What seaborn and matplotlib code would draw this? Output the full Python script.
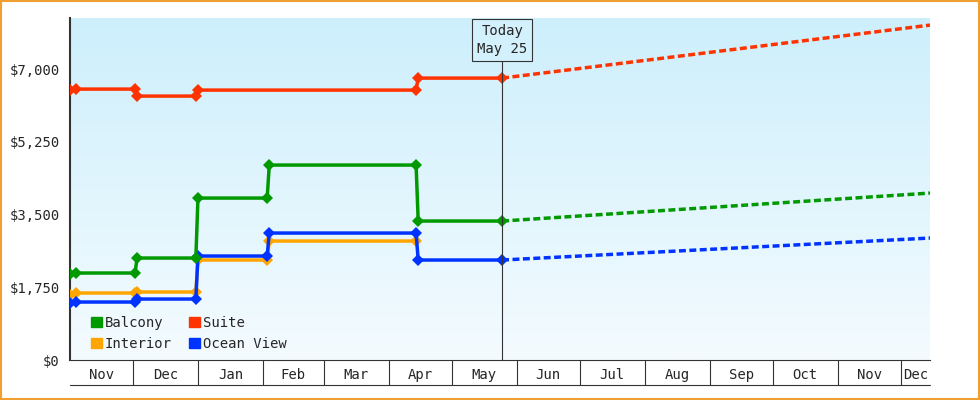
import matplotlib
matplotlib.use("Agg")
import matplotlib.pyplot as plt
from matplotlib.patches import Patch
import numpy as np
import pandas as pd
import seaborn as sns

sns.set_style("white")
plt.rcParams['font.family'] = ['DejaVu Sans Mono']

# price history
balcony_dates = ["2023-11-01", "2023-11-04", "2023-12-02", "2023-12-03", "2023-12-31", "2024-01-01",
                 "2024-02-03", "2024-02-04", "2024-04-14", "2024-04-15", "2024-05-25"]
balcony = [2069, 2093, 2093, 2454, 2454, 3897, 3897, 4691, 4691, 3344, 3344]
suite_dates = ["2023-11-01", "2023-11-04", "2023-12-02", "2023-12-03", "2023-12-31", "2024-01-01",
               "2024-04-14", "2024-04-15", "2024-05-25"]
suite = [6495, 6519, 6519, 6351, 6351, 6495, 6495, 6784, 6784]
interior_dates = ["2023-11-01", "2023-11-04", "2023-12-02", "2023-12-03", "2023-12-31", "2024-01-01",
                  "2024-02-03", "2024-02-04", "2024-04-14"]
interior = [1564, 1612, 1612, 1636, 1636, 2406, 2406, 2863, 2863]
ocean_dates = ["2023-11-01", "2023-11-04", "2023-12-02", "2023-12-03", "2023-12-31", "2024-01-01",
               "2024-02-03", "2024-02-04", "2024-04-14", "2024-04-15", "2024-05-25"]
ocean = [1371, 1395, 1395, 1467, 1467, 2502, 2502, 3055, 3055, 2406, 2406]

# forecast (dotted)
fc_dates = ["2024-05-25", "2024-12-15"]
fc_suite = [6784, 8059]
fc_balcony = [3344, 4017]
fc_ocean = [2406, 2935]

colors = {"Balcony": "#009900", "Suite": "#ff3300", "Interior": "#ffa500", "Ocean View": "#0033ff"}
month_labels = ["Nov", "Dec", "Jan", "Feb", "Mar", "Apr", "May", "Jun", "Jul", "Aug", "Sep", "Oct", "Nov", "Dec"]

hist = pd.concat([
    pd.DataFrame({"date": pd.to_datetime(d), "price": v, "cabin": n})
    for n, d, v in [("Balcony", balcony_dates, balcony), ("Suite", suite_dates, suite),
                    ("Interior", interior_dates, interior), ("Ocean View", ocean_dates, ocean)]
])
fc = pd.concat([
    pd.DataFrame({"date": pd.to_datetime(fc_dates), "price": v, "cabin": n})
    for n, v in [("Suite", fc_suite), ("Balcony", fc_balcony), ("Ocean View", fc_ocean)]
])

fig = plt.figure(figsize=(9.8, 4.0), dpi=100)
fig.patch.set_facecolor("white")
ax = fig.add_axes([70 / 980, 40 / 400, 860 / 980, 342 / 400])
border = plt.Rectangle((0.001, 0.002), 0.998, 0.996, transform=fig.transFigure, fill=False,
                       edgecolor="#f0a030", lw=1.5)
fig.patches.append(border)

# gradient background, light blue at top fading to white
grad = np.linspace(0, 1, 256).reshape(-1, 1)
cmap = matplotlib.colors.LinearSegmentedColormap.from_list("bg", ["#cdeffc", "#f4fbff"])
ax.imshow(grad, aspect="auto", cmap=cmap, extent=[0, 1, 0, 1], transform=ax.transAxes, zorder=0)

for name in ["Interior", "Ocean View", "Balcony", "Suite"]:
    sub = hist[hist.cabin == name]
    sns.lineplot(data=sub, x="date", y="price", color=colors[name], lw=2.5, marker="D",
                 markersize=6, markeredgewidth=0, sort=False, ax=ax, zorder=3)
for name in ["Suite", "Balcony", "Ocean View"]:
    sub = fc[fc.cabin == name]
    sns.lineplot(data=sub, x="date", y="price", color=colors[name], lw=2.5, ls=(0, (2, 1)),
                 sort=False, ax=ax, zorder=3)

xmin, xmax = pd.Timestamp("2023-11-01"), pd.Timestamp("2024-12-15")
ax.set_xlim(xmin, xmax)
ax.set_ylim(0, 8230)
ax.set_xlabel("")
ax.set_ylabel("")
ax.set_yticks(np.arange(0, 7001, 1750))
ax.set_yticklabels([f"${v:,.0f}" for v in np.arange(0, 7001, 1750)], fontsize=10)
ax.tick_params(axis="y", length=4, width=1, color="#333333", direction="out")
for s in ["top", "right"]:
    ax.spines[s].set_visible(False)
ax.spines["left"].set_linewidth(1.5)
ax.spines["left"].set_color("#333333")
ax.spines["bottom"].set_color("#333333")

# month cells under the axis
starts = pd.date_range("2023-11-01", "2024-12-01", freq="MS")
bounds = list(starts) + [xmax]
mids = [a + (b - a) / 2 for a, b in zip(bounds[:-1], bounds[1:])]
ax.set_xticks(mids)
ax.set_xticklabels(month_labels, fontsize=10)
ax.tick_params(axis="x", length=0, pad=6)
trans = matplotlib.transforms.blended_transform_factory(ax.transData, ax.transAxes)
for b in bounds[1:-1]:
    ax.plot([b, b], [0, -0.073], color="#333333", lw=0.8, transform=trans, clip_on=False)
ax.plot([xmin, xmax], [-0.073, -0.073], color="#333333", lw=0.8, transform=trans, clip_on=False)

# today marker
today = pd.Timestamp("2024-05-25")
ax.plot([today, today], [0, 0.88], color="#333333", lw=0.8, transform=trans, zorder=4)
ax.text(today, 0.935, "Today\nMay 25", transform=trans, ha="center", va="center", fontsize=10,
        linespacing=1.4, bbox=dict(boxstyle="square,pad=0.35", fc="#d3f1fc", ec="#333333", lw=0.8), zorder=5)

handles = [Patch(color=colors[n], label=n) for n in ["Balcony", "Interior", "Suite", "Ocean View"]]
ax.legend(handles=handles, ncol=2, loc="lower left", bbox_to_anchor=(0.01, -0.01), frameon=False,
          fontsize=10, handlelength=0.8, handleheight=0.8, handletextpad=0.2, columnspacing=1.2,
          labelspacing=0.5)

fig.savefig("out.png", dpi=100)
